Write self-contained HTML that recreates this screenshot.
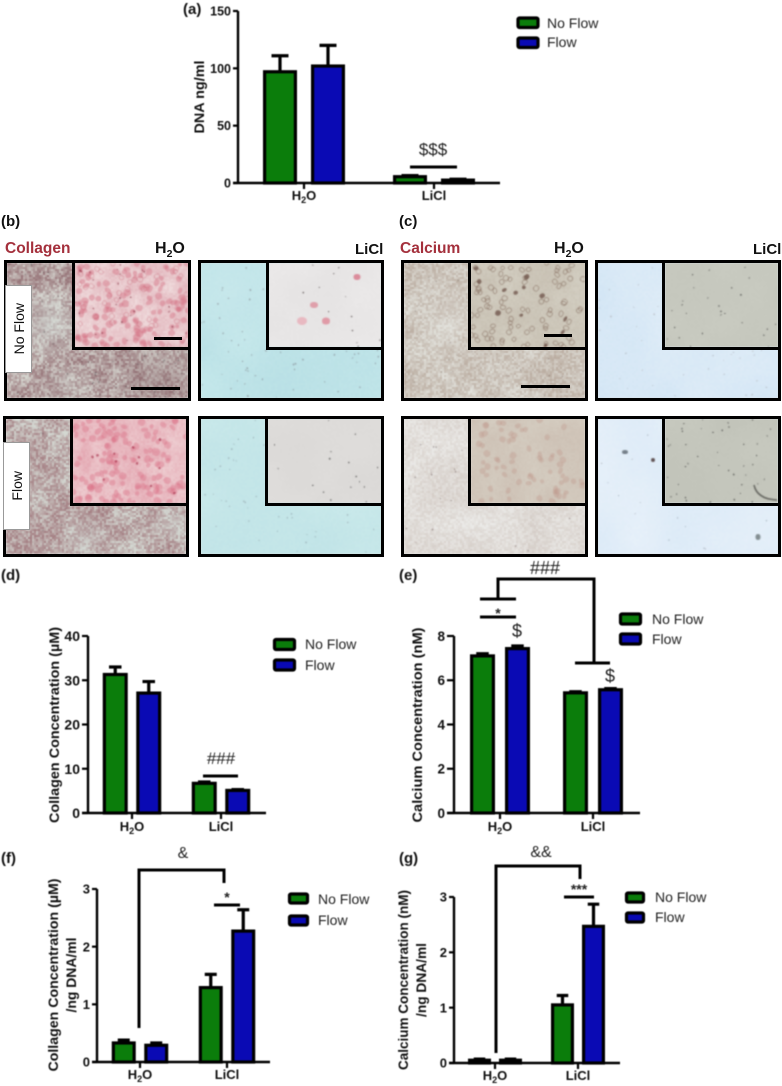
<!DOCTYPE html>
<html lang="en">
<head>
<meta charset="utf-8">
<title>Flow and LiCl bar charts with micrographs</title>
<style>
html,body{margin:0;padding:0;background:#fff;width:782px;height:1086px;overflow:hidden}
#stage{position:relative;width:782px;height:1086px;font-family:"Liberation Sans",sans-serif}
#charts{position:absolute;left:0;top:0;z-index:3;filter:blur(.4px)}
#charts text{font-family:"Liberation Sans",sans-serif}
.micro{position:absolute;border:3px solid #000;box-sizing:border-box;overflow:hidden;background:#ddd}
.micro>canvas{position:absolute;left:0;top:0;display:block;filter:blur(.5px)}
.inset{position:absolute;right:0;top:0;border-left:3px solid #000;border-bottom:3px solid #000;box-sizing:content-box;overflow:hidden}
.inset canvas{display:block;filter:blur(.45px)}
.scale{position:absolute;background:#000;height:3px;z-index:2}
.side{position:absolute;background:#fff;border:1px solid #999;box-sizing:border-box;z-index:2;display:flex;align-items:center;justify-content:center}
.side span{writing-mode:vertical-rl;transform:rotate(180deg);font-size:14px;color:#111}
.lbl{position:absolute;white-space:nowrap;line-height:1;z-index:2}
.cond{font-size:16px;font-weight:bold;color:#111}
.stain{font-size:15.5px;font-weight:bold;color:#a4303c}
.cond sub{font-size:10.5px;line-height:0}
.licl{font-size:15px}
.plabel{position:absolute;font-size:15px;font-weight:bold;line-height:1;color:#111;z-index:4}
</style>
</head>
<body>
<div id="stage">

  <div class="plabel" style="left:1px;top:214px">(b)</div>
  <div class="plabel" style="left:399px;top:214px">(c)</div>

  <div class="lbl stain" style="left:5px;top:241px">Collagen</div>
  <div class="lbl cond" style="left:155px;top:241px">H<sub>2</sub>O</div>
  <div class="lbl cond licl" style="left:355px;top:242px">LiCl</div>
  <div class="lbl stain" style="left:400px;top:241px">Calcium</div>
  <div class="lbl cond" style="left:554px;top:241px">H<sub>2</sub>O</div>
  <div class="lbl cond licl" style="left:753px;top:242px">LiCl</div>

  <div class="micro" id="m1" style="left:4px;top:260px;width:187px;height:141px"></div>
  <div class="micro" id="m2" style="left:198px;top:260px;width:186px;height:141px"></div>
  <div class="micro" id="m3" style="left:3px;top:416px;width:186px;height:141px"></div>
  <div class="micro" id="m4" style="left:198px;top:416px;width:186px;height:141px"></div>
  <div class="micro" id="m5" style="left:401px;top:260px;width:187px;height:141px"></div>
  <div class="micro" id="m6" style="left:595px;top:260px;width:186px;height:141px"></div>
  <div class="micro" id="m7" style="left:401px;top:416px;width:187px;height:141px"></div>
  <div class="micro" id="m8" style="left:595px;top:416px;width:186px;height:141px"></div>

  <div class="scale" style="left:154px;top:337px;width:28px"></div>
  <div class="scale" style="left:131px;top:387px;width:49px"></div>
  <div class="scale" style="left:544px;top:334px;width:28px"></div>
  <div class="scale" style="left:521px;top:385px;width:49px"></div>

  <div class="side" style="left:5px;top:285px;width:27px;height:88px"><span>No Flow</span></div>
  <div class="side" style="left:3px;top:442px;width:27px;height:88px"><span>Flow</span></div>

  <svg id="charts" width="782" height="1086" viewBox="0 0 782 1086" xmlns="http://www.w3.org/2000/svg">
    <g font-weight="bold" font-size="15" fill="#111">
      <text x="183" y="14">(a)</text>
      <text x="1" y="580">(d)</text>
      <text x="399" y="580">(e)</text>
      <text x="1" y="863">(f)</text>
      <text x="399" y="863">(g)</text>
    </g>

    <!-- significance annotations -->
    <g stroke="#000" stroke-width="3" fill="none">
      <path d="M410 167H457"/>
      <path d="M203 776H238"/>
      <path d="M498 599V579H594V663"/>
      <path d="M480 599H516"/>
      <path d="M480 617H516"/>
      <path d="M575 663H610"/>
      <path d="M139 1028V870H224V883"/>
      <path d="M214 905H240"/>
      <path d="M496 1053V866H580V879"/>
      <path d="M564 897H594"/>
    </g>
    <g fill="#222" text-anchor="middle">
      <text x="433" y="155" font-size="17">$$$</text>
      <text x="221" y="764" font-size="17">###</text>
      <text x="545" y="574" font-size="18">###</text>
      <text x="498" y="618" font-size="14" font-weight="bold">*</text>
      <text x="517" y="637" font-size="18">$</text>
      <text x="610" y="682" font-size="18">$</text>
      <text x="183" y="858" font-size="16">&amp;</text>
      <text x="227" y="902" font-size="14" font-weight="bold">*</text>
      <text x="541" y="857" font-size="16">&amp;&amp;</text>
      <text x="579" y="894" font-size="14" font-weight="bold">***</text>
    </g>

    <!-- legends -->
    <g font-size="14" fill="#222" stroke-linejoin="round">
      <g><rect x="518" y="18" width="20" height="9.5" rx="1.5" fill="#0b7d0b" stroke="#000" stroke-width="3.2"/><text x="547" y="28">No Flow</text></g>
      <g><rect x="518" y="38" width="20" height="9.5" rx="1.5" fill="#0a0ab4" stroke="#000" stroke-width="3.2"/><text x="547" y="47">Flow</text></g>
    </g>
    <g font-size="14" fill="#222">
      <g><rect x="274.5" y="639.5" width="20" height="10" rx="1.5" fill="#0b7d0b" stroke="#000" stroke-width="3.2"/><text x="305" y="649">No Flow</text></g>
      <g><rect x="274.5" y="660" width="20" height="10" rx="1.5" fill="#0a0ab4" stroke="#000" stroke-width="3.2"/><text x="305" y="670">Flow</text></g>
    </g>
    <g font-size="14" fill="#222">
      <g><rect x="620.5" y="614" width="20" height="10" rx="1.5" fill="#0b7d0b" stroke="#000" stroke-width="3.2"/><text x="652" y="624">No Flow</text></g>
      <g><rect x="620.5" y="634" width="20" height="10" rx="1.5" fill="#0a0ab4" stroke="#000" stroke-width="3.2"/><text x="652" y="644">Flow</text></g>
    </g>
    <g font-size="14" fill="#222">
      <g><rect x="289.5" y="894" width="18" height="9" rx="1.5" fill="#0b7d0b" stroke="#000" stroke-width="3.2"/><text x="318" y="904">No Flow</text></g>
      <g><rect x="289.5" y="916" width="18" height="9" rx="1.5" fill="#0a0ab4" stroke="#000" stroke-width="3.2"/><text x="318" y="925">Flow</text></g>
    </g>
    <g font-size="14" fill="#222">
      <g><rect x="626.5" y="893" width="17" height="9" rx="1.5" fill="#0b7d0b" stroke="#000" stroke-width="3.2"/><text x="655" y="902">No Flow</text></g>
      <g><rect x="626.5" y="913" width="17" height="9" rx="1.5" fill="#0a0ab4" stroke="#000" stroke-width="3.2"/><text x="655" y="922">Flow</text></g>
    </g>
  </svg>
</div>

<script>
// ---------- chart data ----------
const categories = ['H2O', 'LiCl'];

const dnaTicks = [0, 50, 100, 150];
const dnaNoFlow = [97, 5.5];
const dnaFlow = [102, 2.5];
const dnaNoFlowErr = [14, 1];
const dnaFlowErr = [18, 0.8];

const collagenTicks = [0, 10, 20, 30, 40];
const collagenNoFlow = [31.3, 6.7];
const collagenFlow = [27.1, 5.1];
const collagenNoFlowErr = [1.7, 0.3];
const collagenFlowErr = [2.6, 0.2];

const calciumTicks = [0, 2, 4, 6, 8];
const calciumNoFlow = [7.1, 5.43];
const calciumFlow = [7.43, 5.57];
const calciumNoFlowErr = [0.1, 0.05];
const calciumFlowErr = [0.12, 0.05];

const collagenPerDnaTicks = [0, 1, 2, 3];
const collagenPerDnaNoFlow = [0.33, 1.29];
const collagenPerDnaFlow = [0.29, 2.27];
const collagenPerDnaNoFlowErr = [0.05, 0.23];
const collagenPerDnaFlowErr = [0.04, 0.37];

const calciumPerDnaTicks = [0, 1, 2, 3];
const calciumPerDnaNoFlow = [0.05, 1.05];
const calciumPerDnaFlow = [0.05, 2.47];
const calciumPerDnaNoFlowErr = [0.02, 0.17];
const calciumPerDnaFlowErr = [0.02, 0.4];

// ---------- drawing ----------
const NS = 'http://www.w3.org/2000/svg';
const chartsSvg = document.getElementById('charts');

function mk(tag, attrs, parent) {
  const el = document.createElementNS(NS, tag);
  for (const k in attrs) el.setAttribute(k, attrs[k]);
  parent.appendChild(el);
  return el;
}

function drawChart(name, layout, ticks, noFlow, flow, noFlowErr, flowErr) {
  const g = mk('g', {}, chartsSvg);
  
  

  const yMax = ticks[ticks.length - 1];
  const yScale = v => layout.y0 - (v / yMax) * (layout.y0 - layout.yTop);
  const barX = (i, series) => layout.centers[i] + (series === 0 ? -layout.offset : layout.offset);

  const drawBars = (values, errs, series, fill, seriesName) => {
    values.forEach((v, i) => {
      const cx = barX(i, series);
      const top = yScale(v);
      const errTop = yScale(v + errs[i]);
      const inner = layout.barW - 3.2;

      const err = mk('path', {
        d: 'M' + cx + ' ' + top + 'V' + errTop + 'M' + (cx - layout.barW / 4) + ' ' + errTop + 'H' + (cx + layout.barW / 4),
        stroke: '#000', 'stroke-width': 3.2, fill: 'none'
      }, g);
      
      

      const bar = mk('rect', {
        x: cx - inner / 2, y: top, width: inner, height: Math.max(layout.y0 - top, 0),
        fill: fill, stroke: '#000', 'stroke-width': 3.2
      }, g);
      
      
    });
  };
  drawBars(noFlow, noFlowErr, 0, '#0b7d0b', 'no-flow');
  drawBars(flow, flowErr, 1, '#0a0ab4', 'flow');

  const yAxis = mk('path', { d: 'M' + layout.axisX + ' ' + layout.yTop + 'V' + layout.y0, stroke: '#000', 'stroke-width': 2.4, fill: 'none' }, g);
  
  

  const xAxis = mk('path', { d: 'M' + layout.tickLeft + ' ' + layout.y0 + 'H' + layout.right, stroke: '#000', 'stroke-width': 2.4, fill: 'none' }, g);
  
  

  ticks.forEach(t => {
    const y = yScale(t);
    const tick = mk('path', { d: 'M' + layout.tickLeft + ' ' + y + 'H' + layout.axisX, stroke: '#000', 'stroke-width': 2.2 }, g);
    
    
    const lab = mk('text', {
      x: layout.tickLeft - 2, y: y + layout.tickFont * 0.36, 'text-anchor': 'end',
      'font-size': layout.tickFont, 'font-weight': 'bold', fill: '#111'
    }, g);
    lab.textContent = t;
    
    
  });

  categories.forEach((c, i) => {
    const cx = layout.centers[i];
    const tick = mk('path', { d: 'M' + cx + ' ' + layout.y0 + 'v6', stroke: '#000', 'stroke-width': 2.2 }, g);
    
    
    const lab = mk('text', {
      x: cx, y: layout.xLabelY, 'text-anchor': 'middle',
      'font-size': layout.xFont, 'font-weight': 'bold', fill: '#111'
    }, g);
    
    
    if (c === 'H2O') {
      lab.appendChild(document.createTextNode('H'));
      mk('tspan', { dy: 3, 'font-size': layout.xFont * 0.7 }, lab).textContent = '2';
      mk('tspan', { dy: -3 }, lab).textContent = 'O';
    } else {
      lab.textContent = c;
    }
  });

  layout.yTitles.forEach(title => {
    const t = mk('text', {
      x: title.x, y: title.yMid, 'text-anchor': 'middle',
      transform: 'rotate(-90 ' + title.x + ' ' + title.yMid + ')',
      'font-size': 14, 'font-weight': 'bold', fill: '#111',
      textLength: title.len, lengthAdjust: 'spacingAndGlyphs'
    }, g);
    t.textContent = title.text;
    
    
  });
}

drawChart('dna', {
  axisX: 238, tickLeft: 233, right: 500, y0: 183, yTop: 11, centers: [304, 434], offset: 24, barW: 34,
  xLabelY: 200, xFont: 13, tickFont: 12.5,
  yTitles: [{ text: 'DNA ng/ml', x: 204, yMid: 97, len: 73 }]
}, dnaTicks, dnaNoFlow, dnaFlow, dnaNoFlowErr, dnaFlowErr);

drawChart('collagen', {
  axisX: 88, tickLeft: 82, right: 266, y0: 813, yTop: 636, centers: [132, 221], offset: 16.75, barW: 25,
  xLabelY: 831, xFont: 13, tickFont: 14,
  yTitles: [{ text: 'Collagen Concentration (\u00b5M)', x: 59, yMid: 725, len: 196 }]
}, collagenTicks, collagenNoFlow, collagenFlow, collagenNoFlowErr, collagenFlowErr);

drawChart('calcium', {
  axisX: 454, tickLeft: 447, right: 640, y0: 813, yTop: 636, centers: [500, 593], offset: 17.5, barW: 25,
  xLabelY: 831, xFont: 13, tickFont: 13.5,
  yTitles: [{ text: 'Calcium Concentration (nM)', x: 422, yMid: 725, len: 195 }]
}, calciumTicks, calciumNoFlow, calciumFlow, calciumNoFlowErr, calciumFlowErr);

drawChart('collagen-per-dna', {
  axisX: 97, tickLeft: 92, right: 270, y0: 1062, yTop: 889, centers: [140, 227], offset: 16.25, barW: 24,
  xLabelY: 1079, xFont: 13, tickFont: 13,
  yTitles: [
    { text: 'Collagen Concentration (\u00b5M)', x: 58, yMid: 975, len: 193 },
    { text: '/ng DNA/ml', x: 76, yMid: 975, len: 75 }
  ]
}, collagenPerDnaTicks, collagenPerDnaNoFlow, collagenPerDnaFlow, collagenPerDnaNoFlowErr, collagenPerDnaFlowErr);

drawChart('calcium-per-dna', {
  axisX: 454, tickLeft: 449, right: 620, y0: 1063, yTop: 897, centers: [495, 578], offset: 15.5, barW: 23,
  xLabelY: 1080, xFont: 13, tickFont: 13,
  yTitles: [
    { text: 'Calcium Concentration (nM)', x: 408, yMid: 980, len: 180 },
    { text: '/ng DNA/ml', x: 426, yMid: 980, len: 74 }
  ]
}, calciumPerDnaTicks, calciumPerDnaNoFlow, calciumPerDnaFlow, calciumPerDnaNoFlowErr, calciumPerDnaFlowErr);

// ---------- procedural micrograph textures ----------
function rng(seed) {
  return function () {
    seed |= 0; seed = seed + 0x6D2B79F5 | 0;
    let t = Math.imul(seed ^ seed >>> 15, 1 | seed);
    t = t + Math.imul(t ^ t >>> 7, 61 | t) ^ t;
    return ((t ^ t >>> 14) >>> 0) / 4294967296;
  };
}
function noiseField(r, w, h, cell) {
  const cols = Math.ceil(w / cell) + 2, rows = Math.ceil(h / cell) + 2, grid = [];
  for (let i = 0; i < cols * rows; i++) grid.push(r());
  const s = t => t * t * (3 - 2 * t);
  return (x, y) => {
    const gx = x / cell, gy = y / cell, ix = Math.floor(gx), iy = Math.floor(gy);
    const fx = s(gx - ix), fy = s(gy - iy);
    const a = grid[iy * cols + ix], b = grid[iy * cols + ix + 1];
    const c = grid[(iy + 1) * cols + ix], d = grid[(iy + 1) * cols + ix + 1];
    return (a * (1 - fx) + b * fx) * (1 - fy) + (c * (1 - fx) + d * fx) * fy;
  };
}
function texture(canvas, w, h, opt, seed) {
  const r = rng(seed);
  canvas.width = w; canvas.height = h;
  const ctx = canvas.getContext('2d');
  const img = ctx.createImageData(w, h);
  const low = noiseField(r, w, h, opt.patch || 28);
  const amp = opt.amp === undefined ? 0.6 : opt.amp;
  const grainCell = opt.grainCell || 2;
  const grainCols = Math.ceil(w / grainCell) + 1;
  const grain = [];
  for (let i = 0; i < grainCols * (Math.ceil(h / grainCell) + 1); i++) grain.push(r() - 0.5);
  for (let y = 0; y < h; y++) {
    for (let x = 0; x < w; x++) {
      const gv = grain[Math.floor(y / grainCell) * grainCols + Math.floor(x / grainCell)];
      let t = 0.5 + (low(x, y) - 0.5) * amp + gv * (opt.grain || 0.6);
      t = Math.max(0, Math.min(1, t));
      const i = (y * w + x) * 4;
      for (let c = 0; c < 3; c++) img.data[i + c] = opt.a[c] * (1 - t) + opt.b[c] * t;
      img.data[i + 3] = 255;
    }
  }
  ctx.putImageData(img, 0, 0);
  (opt.glows || []).forEach(gl => {
    const grad = ctx.createRadialGradient(gl.x, gl.y, 0, gl.x, gl.y, gl.r);
    grad.addColorStop(0, gl.color);
    grad.addColorStop(1, gl.color.replace(/[\d.]+\)$/, '0)'));
    ctx.fillStyle = grad;
    ctx.fillRect(0, 0, w, h);
  });
  (opt.blobs || []).forEach(bl => {
    for (let k = 0; k < bl.n; k++) {
      ctx.fillStyle = bl.color;
      ctx.beginPath();
      const rx = bl.min + r() * (bl.max - bl.min), ry = bl.min + r() * (bl.max - bl.min);
      ctx.ellipse(r() * w, r() * h, rx, ry, r() * 3, 0, 6.3);
      if (bl.ring) { ctx.strokeStyle = bl.color; ctx.lineWidth = 1; ctx.stroke(); }
      else ctx.fill();
    }
  });
  (opt.spots || []).forEach(sp => {
    ctx.fillStyle = sp.color;
    ctx.beginPath();
    ctx.ellipse(sp.x, sp.y, sp.rx, sp.ry, 0, 0, 6.3);
    ctx.fill();
  });
  if (opt.curve) {
    ctx.strokeStyle = opt.curve.color;
    ctx.lineWidth = 1.5;
    ctx.beginPath();
    ctx.moveTo(opt.curve.x0, opt.curve.y0);
    ctx.quadraticCurveTo(opt.curve.cx, opt.curve.cy, opt.curve.x1, opt.curve.y1);
    ctx.stroke();
  }
}

const imageConfigs = [
  { id: 'm1', inW: 113, inH: 84,
    main: { a: [152, 118, 122], b: [214, 214, 208], patch: 16, amp: .55, grain: .8,
      glows: [{ x: 40, y: 62, r: 38, color: 'rgba(215,225,220,.55)' }, { x: 60, y: 125, r: 30, color: 'rgba(215,222,216,.3)' }, { x: 150, y: 115, r: 50, color: 'rgba(130,95,100,.35)' }],
      blobs: [{ n: 160, min: .4, max: .9, color: 'rgba(60,50,55,.5)' }] },
    inset: { a: [224, 176, 184], b: [242, 226, 226], patch: 12, amp: .5, grain: .3,
      blobs: [{ n: 130, min: 2, max: 3.8, color: 'rgba(212,110,128,.42)' }, { n: 40, min: 2, max: 3, color: 'rgba(190,70,90,.28)', ring: true }, { n: 26, min: .5, max: 1.1, color: 'rgba(120,30,50,.6)' }] } },
  { id: 'm2', inW: 112, inH: 84,
    main: { a: [182, 222, 228], b: [200, 234, 236], patch: 40, amp: .6, grain: .2,
      glows: [{ x: 30, y: 30, r: 70, color: 'rgba(215,240,242,.4)' }],
      blobs: [{ n: 90, min: .4, max: 1, color: 'rgba(110,100,110,.5)' }] },
    inset: { a: [226, 224, 224], b: [238, 236, 236], patch: 30, amp: .4, grain: .12,
      spots: [{ x: 88, y: 14, rx: 3.5, ry: 3, color: 'rgba(215,110,130,.75)' }, { x: 45, y: 42, rx: 4, ry: 3, color: 'rgba(220,130,145,.7)' }, { x: 33, y: 58, rx: 5, ry: 4, color: 'rgba(232,170,180,.75)' }, { x: 57, y: 58, rx: 4, ry: 3.5, color: 'rgba(222,130,145,.75)' }],
      blobs: [{ n: 12, min: .4, max: .9, color: 'rgba(60,50,50,.7)' }] } },
  { id: 'm3', inW: 113, inH: 84,
    main: { a: [165, 128, 132], b: [212, 216, 210], patch: 16, amp: .55, grain: .8,
      glows: [{ x: 80, y: 120, r: 28, color: 'rgba(215,225,220,.4)' }, { x: 170, y: 105, r: 22, color: 'rgba(215,225,220,.4)' }],
      blobs: [{ n: 100, min: .4, max: .9, color: 'rgba(80,50,60,.42)' }] },
    inset: { a: [226, 160, 172], b: [240, 214, 216], patch: 12, amp: .5, grain: .28,
      blobs: [{ n: 130, min: 2, max: 4, color: 'rgba(220,115,135,.42)' }, { n: 12, min: .8, max: 1.5, color: 'rgba(160,30,60,.65)' }] } },
  { id: 'm4', inW: 113, inH: 84,
    main: { a: [190, 226, 230], b: [206, 236, 236], patch: 40, amp: .5, grain: .2,
      blobs: [{ n: 60, min: .4, max: .9, color: 'rgba(110,120,130,.45)' }] },
    inset: { a: [216, 214, 212], b: [226, 224, 222], patch: 30, amp: .4, grain: .12,
      blobs: [{ n: 16, min: .4, max: .9, color: 'rgba(50,50,50,.7)' }] } },
  { id: 'm5', inW: 114, inH: 84,
    main: { a: [186, 172, 160], b: [226, 226, 220], patch: 22, amp: .45, grain: .7,
      glows: [{ x: 50, y: 60, r: 40, color: 'rgba(232,232,228,.35)' }],
      blobs: [{ n: 70, min: .4, max: .9, color: 'rgba(90,70,60,.35)' }] },
    inset: { a: [196, 188, 174], b: [214, 210, 198], patch: 18, amp: .4, grain: .28,
      blobs: [{ n: 90, min: 1.8, max: 3, color: 'rgba(125,100,85,.5)', ring: true }, { n: 12, min: 1.5, max: 3, color: 'rgba(90,60,50,.65)' }] } },
  { id: 'm6', inW: 113, inH: 84,
    main: { a: [208, 228, 244], b: [226, 238, 248], patch: 34, amp: .5, grain: .2,
      blobs: [{ n: 60, min: .4, max: .9, color: 'rgba(140,130,130,.4)' }] },
    inset: { a: [192, 194, 184], b: [204, 206, 196], patch: 30, amp: .4, grain: .12,
      blobs: [{ n: 26, min: .4, max: .9, color: 'rgba(50,50,50,.7)' }] } },
  { id: 'm7', inW: 114, inH: 84,
    main: { a: [212, 204, 198], b: [238, 238, 236], patch: 26, amp: .45, grain: .55,
      blobs: [{ n: 40, min: .4, max: .9, color: 'rgba(80,60,60,.5)' }] },
    inset: { a: [202, 188, 176], b: [216, 210, 198], patch: 20, amp: .4, grain: .2,
      blobs: [{ n: 70, min: 2, max: 3.5, color: 'rgba(190,145,135,.32)' }] } },
  { id: 'm8', inW: 113, inH: 84,
    main: { a: [216, 232, 246], b: [234, 242, 250], patch: 40, amp: .5, grain: .15,
      spots: [{ x: 27, y: 33, rx: 3, ry: 2, color: 'rgba(70,80,90,.7)' }, { x: 55, y: 41, rx: 2, ry: 2, color: 'rgba(70,50,50,.85)' }, { x: 160, y: 118, rx: 2.5, ry: 3, color: 'rgba(80,90,90,.65)' }],
      blobs: [{ n: 24, min: .4, max: .8, color: 'rgba(110,120,130,.45)' }] },
    inset: { a: [190, 192, 182], b: [202, 204, 194], patch: 30, amp: .4, grain: .12,
      curve: { x0: 89, y0: 66, cx: 92, cy: 80, x1: 112, y1: 81, color: 'rgba(70,70,65,.75)' },
      blobs: [{ n: 42, min: .4, max: .9, color: 'rgba(50,50,50,.65)' }] } }
];

imageConfigs.forEach((cfg, idx) => {
  const box = document.getElementById(cfg.id);
  const w = box.clientWidth, h = box.clientHeight;

  const mainCanvas = document.createElement('canvas');
  
  
  box.appendChild(mainCanvas);
  texture(mainCanvas, w, h, cfg.main, 101 + idx * 7);

  const inset = document.createElement('div');
  inset.className = 'inset';
  
  
  inset.style.width = cfg.inW + 'px';
  inset.style.height = cfg.inH + 'px';
  box.appendChild(inset);

  const insetCanvas = document.createElement('canvas');
  
  
  inset.appendChild(insetCanvas);
  texture(insetCanvas, cfg.inW, cfg.inH, cfg.inset, 907 + idx * 13);
});
</script>
</body>
</html>
